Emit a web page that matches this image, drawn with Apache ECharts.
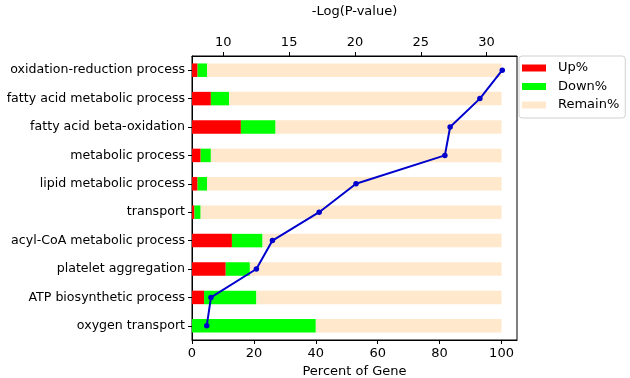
<!DOCTYPE html>
<html><head><meta charset="utf-8">
<script src="https://cdn.jsdelivr.net/npm/echarts@6/dist/echarts.min.js"></script>
<style>html,body{margin:0;padding:0;background:#fff}#c{width:630px;height:378px}</style>
</head><body><div id="c"></div>
<script>
const categories = ["oxidation-reduction process","fatty acid metabolic process","fatty acid beta-oxidation","metabolic process","lipid metabolic process","transport","acyl-CoA metabolic process","platelet aggregation","ATP biosynthetic process","oxygen transport"];
const upPct = [1.8, 6.1, 15.8, 2.8, 1.8, 0.8, 12.9, 10.9, 3.9, 0];
const downPct = [3.1, 5.9, 11.2, 3.3, 3.1, 2.0, 9.9, 7.8, 16.9, 40.0];
const remainPct = upPct.map((u, i) => +(100 - u - downPct[i]).toFixed(1));
const negLogP = [31.19, 29.49, 27.23, 26.83, 20.08, 17.28, 13.73, 12.51, 9.06, 8.74];
const bottomTicks = [0, 20, 40, 60, 80, 100];
const topTicks = [10, 15, 20, 25, 30];

const font = 'DejaVu Sans';
const chart = echarts.init(document.getElementById('c'), null, {renderer: 'canvas'});
chart.setOption({
  animation: false,
  textStyle: {fontFamily: font},
  grid: {left: 192, right: 113, top: 56, bottom: 38, show: true, borderColor: '#000', borderWidth: 1,
         backgroundColor: 'transparent', containLabel: false, outerBoundsMode: 'none'},
  legend: {
    data: ['Up%', 'Down%', 'Remain%'],
    orient: 'vertical', left: 519, top: 56,
    itemWidth: 24, itemHeight: 7, itemGap: 4.5,
    padding: [5, 6, 6, 3],
    borderColor: '#d0d0d0', borderWidth: 1, borderRadius: 3,
    icon: 'rect',
    textStyle: {fontFamily: font, fontSize: 13, color: '#000', lineHeight: 14, padding: [0, 0, 0, 7]}
  },
  xAxis: [
    {type: 'value', position: 'bottom', min: 0, max: 105,
     name: 'Percent of Gene', nameLocation: 'middle', nameGap: 25, nameMoveOverlap: false,
     nameTextStyle: {fontFamily: font, fontSize: 13, color: '#000'},
     axisLine: {show: true, lineStyle: {color: '#000'}},
     axisTick: {show: true, inside: false, length: 4, lineStyle: {color: '#000'}, customValues: bottomTicks},
     axisLabel: {fontFamily: font, fontSize: 13, color: '#000', margin: 7, customValues: bottomTicks},
     splitLine: {show: false}},
    {type: 'value', position: 'top', min: 7.62, max: 32.31,
     name: '-Log(P-value)', nameLocation: 'middle', nameGap: 38, nameMoveOverlap: false,
     nameTextStyle: {fontFamily: font, fontSize: 13, color: '#000'},
     axisLine: {show: true, lineStyle: {color: '#000'}},
     axisTick: {show: true, inside: false, length: 4, lineStyle: {color: '#000'}, customValues: topTicks},
     axisLabel: {fontFamily: font, fontSize: 13, color: '#000', margin: 7, customValues: topTicks},
     splitLine: {show: false}}
  ],
  yAxis: {
    type: 'category', data: categories, inverse: true,
    axisLine: {show: true, lineStyle: {color: '#000'}},
    axisTick: {show: true, alignWithLabel: true, length: 4, lineStyle: {color: '#000'}},
    axisLabel: {fontFamily: font, fontSize: 12.6, color: '#000', margin: 7}
  },
  series: [
    {name: 'Up%', type: 'bar', stack: 'g', xAxisIndex: 0, data: upPct, barWidth: 13.5, itemStyle: {color: '#FF0000'}},
    {name: 'Down%', type: 'bar', stack: 'g', xAxisIndex: 0, data: downPct, barWidth: 13.5, itemStyle: {color: '#00FF00'}},
    {name: 'Remain%', type: 'bar', stack: 'g', xAxisIndex: 0, data: remainPct, barWidth: 13.5, itemStyle: {color: '#FFE8CC'}},
    {name: 'pval', type: 'line', xAxisIndex: 1, data: negLogP.map((v, i) => [v, categories[i]]),
     symbol: 'circle', symbolSize: 5.5, lineStyle: {color: '#0000CD', width: 2}, itemStyle: {color: '#0000CD'}, z: 5}
  ]
});
</script></body></html>
